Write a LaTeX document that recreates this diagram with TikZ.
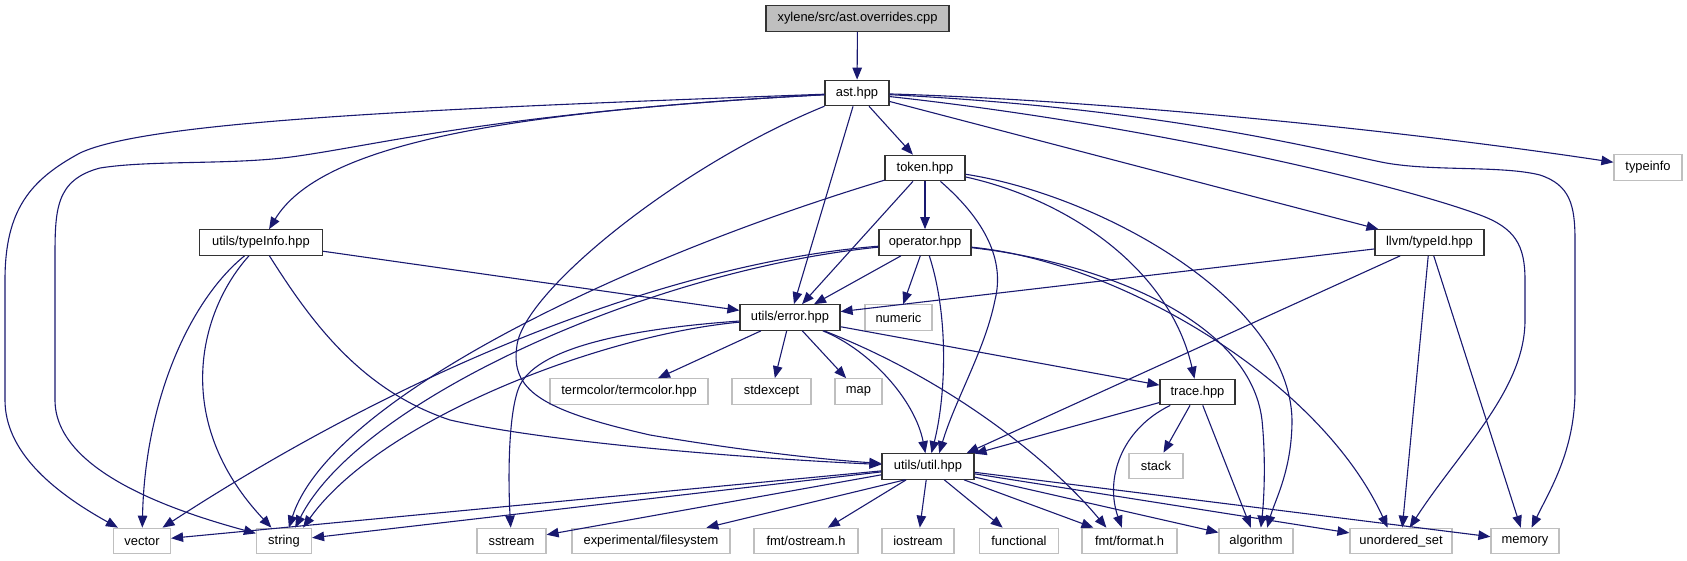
\documentclass[tikz,border=0pt]{standalone}
\usepackage{fontspec}
\setmainfont{Liberation Sans}
\usepackage{xcolor}
\usepackage{tikz}
\usetikzlibrary{arrows.meta}
\definecolor{edgeblue}{RGB}{25, 25, 112}
\definecolor{boxgray}{RGB}{191, 191, 191}

\begin{document}
\begin{tikzpicture}[x=1pt, y=-1pt,
    hdr/.style={draw=black!80, line width=1.2pt, fill=white, minimum height=25.5pt, inner sep=0pt, font=\fontsize{12.9}{15}\selectfont},
    sys/.style={hdr, draw=boxgray},
    src/.style={hdr, fill=boxgray},
    dep/.style={draw=edgeblue, line width=1.1pt, -{Triangle[length=12pt, width=9.5pt]}}]
    \useasboundingbox (0,0) rectangle (1687,560);

    % source file and project headers
    \node[src, minimum width=183pt] (root) at (857.5,18.5) {xylene/src/ast.overrides.cpp};
    \node[hdr, minimum width=64pt] (ast) at (857,93) {ast.hpp};
    \node[hdr, minimum width=80pt] (token) at (925,168) {token.hpp};
    \node[hdr, minimum width=92pt] (oper) at (925,242.5) {operator.hpp};
    \node[hdr, minimum width=123pt] (typeinfohpp) at (261,242.5) {utils/typeInfo.hpp};
    \node[hdr, minimum width=109pt] (typeid) at (1429.5,242.5) {llvm/typeId.hpp};
    \node[hdr, minimum width=100pt] (error) at (790,317.5) {utils/error.hpp};
    \node[hdr, minimum width=75pt] (trace) at (1197.5,392) {trace.hpp};
    \node[hdr, minimum width=92pt] (util) at (928,466.5) {utils/util.hpp};

    % system headers
    \node[sys, minimum width=68pt] (typeinfo) at (1648,167.5) {typeinfo};
    \node[sys, minimum width=67pt] (numeric) at (898.5,317.5) {numeric};
    \node[sys, minimum width=158pt] (termcolor) at (629,391.5) {termcolor/termcolor.hpp};
    \node[sys, minimum width=79pt] (stdexcept) at (771.5,391.5) {stdexcept};
    \node[sys, minimum width=47pt] (map) at (858.5,391.5) {map};
    \node[sys, minimum width=54pt] (stack) at (1156,466) {stack};
    \node[sys, minimum width=57pt] (vector) at (142,541) {vector};
    \node[sys, minimum width=55pt] (string) at (284,541) {string};
    \node[sys, minimum width=69pt] (sstream) at (511.5,541) {sstream};
    \node[sys, minimum width=158pt] (filesystem) at (651,541) {experimental/filesystem};
    \node[sys, minimum width=104pt] (ostream) at (806,541) {fmt/ostream.h};
    \node[sys, minimum width=72pt] (iostream) at (918,541) {iostream};
    \node[sys, minimum width=79pt] (functional) at (1019,541) {functional};
    \node[sys, minimum width=95pt] (format) at (1129.5,541) {fmt/format.h};
    \node[sys, minimum width=74pt] (algorithm) at (1256,541) {algorithm};
    \node[sys, minimum width=102pt] (uset) at (1401,541) {unordered\_set};
    \node[sys, minimum width=68pt] (memory) at (1525,541) {memory};

    % ast.overrides.cpp
    \draw[dep] (root) -- (ast);

    % ast.hpp
    \draw[dep] (ast) -- (token);
    \draw[dep] (ast) -- (error);
    \draw[dep] (ast) -- (typeid);
    \draw[dep] (ast) .. controls (500,112) and (320,145) .. (typeinfohpp);
    \draw[dep] (ast) .. controls (450,108) and (150,120) .. (80,153) .. controls (30,180) and (5,210) .. (5,280)
        -- (5,400) .. controls (5,450) and (50,490) .. (vector);
    \draw[dep] (ast) .. controls (500,112) and (380,145) .. (291,157) .. controls (230,165) and (150,160) .. (100,168)
        .. controls (55,180) and (55,210) .. (55,260) -- (55,400) .. controls (55,470) and (170,510) .. (string);
    \draw[dep] (ast) .. controls (680,165) and (525,290) .. (517,345) .. controls (510,390) and (540,410) .. (650,435)
        .. controls (750,452) and (830,460) .. (util);
    \draw[dep] (ast) .. controls (1100,100) and (1400,130) .. (typeinfo);
    \draw[dep] (ast) .. controls (1150,108) and (1300,145) .. (1381,162) .. controls (1430,172) and (1500,165) .. (1540,175)
        .. controls (1570,185) and (1575,205) .. (1575,240) -- (1575,390) .. controls (1575,450) and (1550,490) .. (memory);
    \draw[dep] (ast) .. controls (1150,125) and (1400,185) .. (1480,215) .. controls (1515,228) and (1525,245) .. (1525,280)
        -- (1525,320) .. controls (1525,390) and (1460,450) .. (uset);

    % token.hpp
    \draw[dep] (token) -- (oper);
    \draw[dep] (token) -- (error);
    \draw[dep] (token) .. controls (985,220) and (1005,260) .. (995,300) .. controls (985,350) and (955,400) .. (util.50);
    \draw[dep] (token) .. controls (1070,200) and (1170,270) .. (trace);
    \draw[dep] (token) .. controls (1100,195) and (1290,300) .. (1292,420) .. controls (1292,470) and (1275,500) .. (algorithm.50);
    \draw[dep] (token) .. controls (620,260) and (330,400) .. (string.70);

    % operator.hpp
    \draw[dep] (oper) -- (error);
    \draw[dep] (oper) -- (numeric);
    \draw[dep] (oper) .. controls (950,320) and (945,400) .. (util);
    \draw[dep] (oper) .. controls (1100,262) and (1250,320) .. (1262,420) .. controls (1266,460) and (1264,500) .. (algorithm.70);
    \draw[dep] (oper) .. controls (1120,262) and (1320,380) .. (uset.135);
    \draw[dep] (oper) .. controls (680,262) and (420,360) .. (vector);
    \draw[dep] (oper) .. controls (650,270) and (360,400) .. (string.50);

    % utils/typeInfo.hpp
    \draw[dep] (typeinfohpp) -- (error);
    \draw[dep] (typeinfohpp) .. controls (190,300) and (145,400) .. (vector);
    \draw[dep] (typeinfohpp) .. controls (200,310) and (170,420) .. (string);
    \draw[dep] (typeinfohpp) .. controls (310,320) and (360,390) .. (450,420) .. controls (560,445) and (780,460) .. (util);

    % llvm/typeId.hpp
    \draw[dep] (typeid) -- (error);
    \draw[dep] (typeid) -- ([xshift=-8pt]util.north east);
    \draw[dep] (typeid) -- (uset);
    \draw[dep] (typeid) -- (memory);

    % utils/error.hpp
    \draw[dep] (error) -- (termcolor);
    \draw[dep] (error) -- (stdexcept);
    \draw[dep] (error) -- (map);
    \draw[dep] (error) -- (trace);
    \draw[dep] (error) .. controls (870,350) and (915,400) .. (util);
    \draw[dep] (error) .. controls (950,380) and (1050,460) .. (format.150);
    \draw[dep] (error) .. controls (600,335) and (380,420) .. (string.35);
    \draw[dep] (error) .. controls (640,328) and (540,345) .. (520,385) .. controls (508,410) and (508,480) .. (sstream);

    % trace.hpp
    \draw[dep] (trace) -- (util);
    \draw[dep] (trace) -- (stack);
    \draw[dep] (trace) -- (algorithm);
    \draw[dep] (trace) .. controls (1120,430) and (1105,480) .. (format.120);

    % utils/util.hpp
    \draw[dep] (util) -- (vector);
    \draw[dep] (util) -- (string);
    \draw[dep] (util) -- (sstream);
    \draw[dep] (util.-150) -- (filesystem);
    \draw[dep] (util) -- (ostream);
    \draw[dep] (util) -- (iostream);
    \draw[dep] (util) -- (functional);
    \draw[dep] (util) -- (format);
    \draw[dep] (util) -- (algorithm);
    \draw[dep] (util) -- (uset);
    \draw[dep] (util) -- (memory);
\end{tikzpicture}
\end{document}
